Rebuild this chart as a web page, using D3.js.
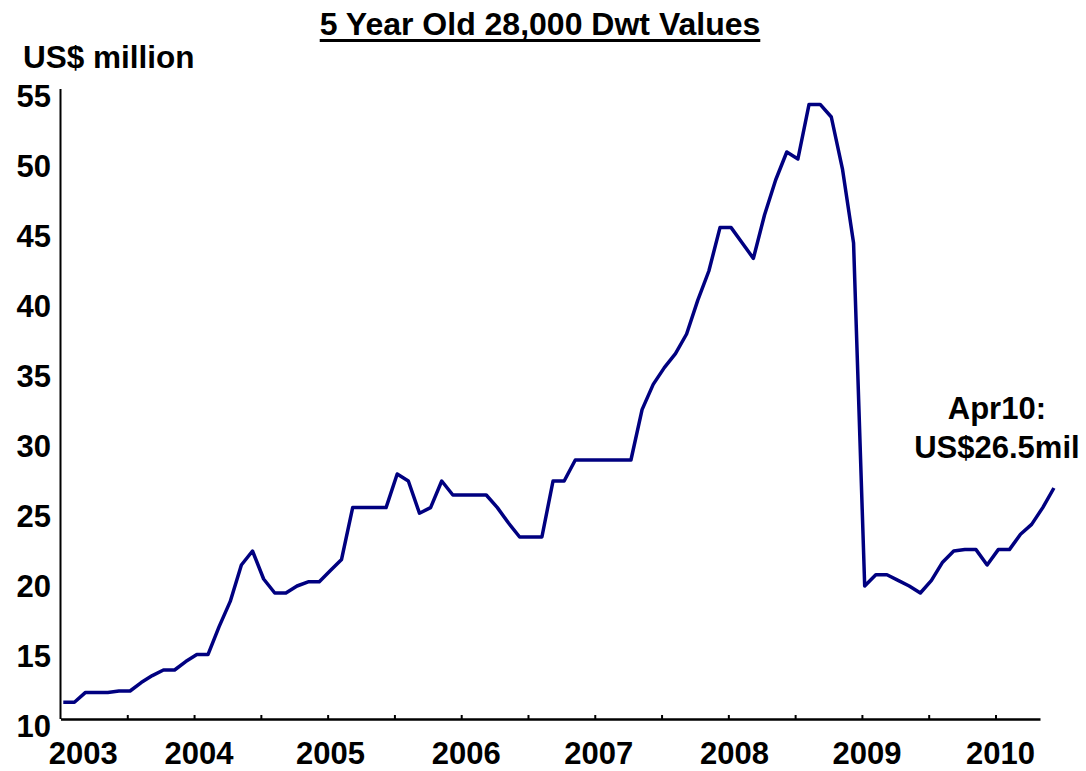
<!DOCTYPE html>
<html>
<head>
<meta charset="utf-8">
<script src="https://cdn.jsdelivr.net/npm/d3@7"></script>
<style>
  body { margin: 0; background: #fff; }
  text { font-family: "Liberation Sans", Arial, sans-serif; font-weight: bold; fill: #000; }
</style>
</head>
<body>
<div id="chart"></div>
<script>
// monthly values, US$ million (index 0 = start of 2003)
const values = [
  11.2, 11.2, 11.9, 11.9, 11.9, 12.0, 12.0, 12.6, 13.1, 13.5,
  13.5, 14.1, 14.6, 14.6, 16.6, 18.4, 21.0, 22.0, 20.0, 19.0,
  19.0, 19.5, 19.8, 19.8, 20.6, 21.4, 25.1, 25.1, 25.1, 25.1,
  27.5, 27.0, 24.7, 25.1, 27.0, 26.0, 26.0, 26.0, 26.0, 25.1,
  24.0, 23.0, 23.0, 23.0, 27.0, 27.0, 28.5, 28.5, 28.5, 28.5,
  28.5, 28.5, 32.1, 33.9, 35.1, 36.1, 37.5, 39.9, 42.0, 45.1,
  45.1, 44.0, 42.9, 46.0, 48.5, 50.5, 50.0, 53.9, 53.9, 53.0,
  49.3, 44.0, 19.5, 20.3, 20.3, 19.9, 19.5, 19.0, 19.9, 21.2,
  22.0, 22.1, 22.1, 21.0, 22.1, 22.1, 23.2, 23.9, 25.1, 26.5
];
const yTicks = [10, 15, 20, 25, 30, 35, 40, 45, 50, 55];
const yearLabels = ["2003", "2004", "2005", "2006", "2007", "2008", "2009", "2010"];
const yearLabelPos = [1.8, 12.2, 24.0, 36.2, 48.1, 60.3, 72.2, 84.2];
const xTicks = d3.range(1, 15).map(k => -0.25 + 6 * k);
const title = "5 Year Old 28,000 Dwt Values";
const yTitle = "US$ million";
const note = ["Apr10:", "US$26.5mil"];

const W = 1086, H = 771;
const svg = d3.select("#chart").append("svg")
    .attr("width", W)
    .attr("height", H);

const x = d3.scaleLinear().domain([-0.25, 87.75]).range([60.5, 1040]);
const y = d3.scaleLinear().domain([10, 55]).range([719, 89]);

// title with underline
const t = svg.append("text")
    .attr("x", 540).attr("y", 35)
    .attr("text-anchor", "middle")
    .style("font-size", "32px")
    .text(title);
const tw = t.node().getComputedTextLength();
svg.append("line")
    .attr("x1", 540 - tw / 2).attr("x2", 540 + tw / 2)
    .attr("y1", 40.5).attr("y2", 40.5)
    .attr("stroke", "#000").attr("stroke-width", 3);

svg.append("text")
    .attr("x", 23).attr("y", 68)
    .style("font-size", "31.5px")
    .text(yTitle);

// y axis (line only, labels drawn below)
svg.append("line")
    .attr("x1", 60.5).attr("x2", 60.5)
    .attr("y1", y(55)).attr("y2", y(10))
    .attr("stroke", "#000").attr("stroke-width", 2);

svg.selectAll(".ylab").data(yTicks).enter().append("text")
    .attr("class", "ylab")
    .attr("x", 51)
    .attr("y", d => y(d) + 7)
    .attr("dy", "0.36em")
    .attr("text-anchor", "end")
    .style("font-size", "31px")
    .text(d => d);

// x axis with small inward ticks
const xAxis = svg.append("g")
    .attr("transform", "translate(0," + y(10) + ")")
    .call(d3.axisBottom(x).tickValues(xTicks).tickSize(-4).tickSizeOuter(0).tickFormat(""));
xAxis.select(".domain").attr("stroke-width", 2.5);
xAxis.selectAll(".tick line").attr("stroke-width", 2);

svg.selectAll(".xlab").data(yearLabels).enter().append("text")
    .attr("class", "xlab")
    .attr("x", (d, i) => x(yearLabelPos[i]))
    .attr("y", 764)
    .attr("text-anchor", "middle")
    .style("font-size", "31px")
    .text(d => d);

// the line
svg.append("path")
    .datum(values)
    .attr("fill", "none")
    .attr("stroke", "#000080")
    .attr("stroke-width", 3.5)
    .attr("stroke-linejoin", "round")
    .attr("d", d3.line().x((d, i) => x(i)).y(d => y(d)));

// annotation
const lastI = values.length - 1;
svg.append("text")
    .attr("x", x(lastI) - 57)
    .attr("y", 419)
    .attr("text-anchor", "middle")
    .style("font-size", "31px")
    .selectAll("tspan").data(note).enter().append("tspan")
    .attr("x", x(lastI) - 57)
    .attr("dy", (d, i) => i ? 39 : 0)
    .text(d => d);
</script>
</body>
</html>
